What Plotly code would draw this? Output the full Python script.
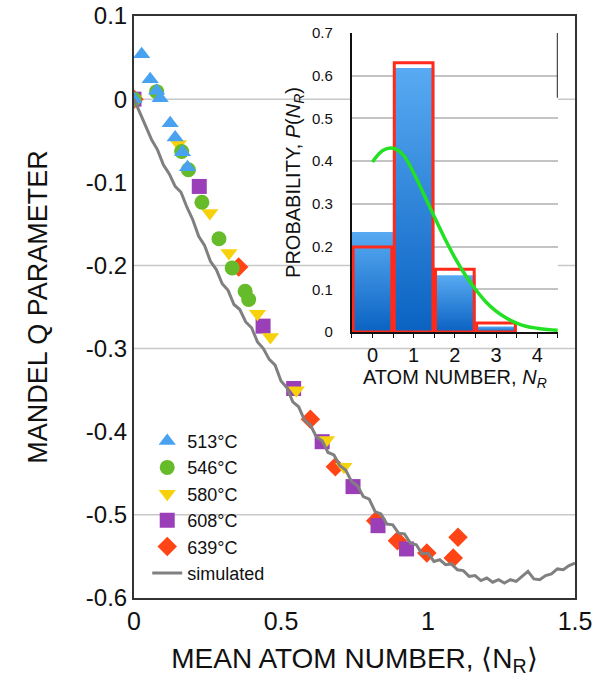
import plotly.graph_objects as go

# main panel: Mandel Q vs mean atom number
t513_x = [0.0, 0.026, 0.055, 0.077, 0.089, 0.123, 0.140, 0.165, 0.182]
t513_q = [0.0, 0.054, 0.024, 0.010, 0.001, -0.029, -0.046, -0.064, -0.082]

t546_x = [0.0, 0.077, 0.162, 0.185, 0.231, 0.289, 0.334, 0.378, 0.390]
t546_q = [0.0, 0.009, -0.063, -0.085, -0.124, -0.168, -0.203, -0.231, -0.241]

t580_x = [0.0, 0.151, 0.258, 0.323, 0.420, 0.464, 0.552, 0.655, 0.714]
t580_q = [0.0, -0.054, -0.137, -0.185, -0.258, -0.286, -0.350, -0.410, -0.442]

t608_x = [0.0, 0.222, 0.439, 0.543, 0.640, 0.745, 0.830, 0.927]
t608_q = [0.0, -0.105, -0.273, -0.348, -0.412, -0.466, -0.513, -0.541]

t639_x = [0.0, 0.356, 0.600, 0.685, 0.822, 0.896, 0.996, 1.086, 1.102]
t639_q = [0.0, -0.202, -0.385, -0.442, -0.507, -0.531, -0.546, -0.552, -0.527]

sim_x = [0.00, 0.02, 0.04, 0.06, 0.08, 0.10, 0.12, 0.14, 0.16, 0.18,
         0.20, 0.22, 0.24, 0.26, 0.28, 0.30, 0.32, 0.34, 0.36, 0.38,
         0.40, 0.42, 0.44, 0.46, 0.48, 0.50, 0.52, 0.54, 0.56, 0.58,
         0.60, 0.62, 0.64, 0.66, 0.68, 0.70, 0.72, 0.74, 0.76, 0.78,
         0.80, 0.82, 0.84, 0.86, 0.88, 0.90, 0.92, 0.94, 0.96, 0.98,
         1.00, 1.02, 1.04, 1.06, 1.08, 1.10, 1.12, 1.14, 1.16, 1.18,
         1.20, 1.22, 1.24, 1.26, 1.28, 1.30, 1.32, 1.34, 1.36, 1.38,
         1.40, 1.42, 1.44, 1.46, 1.48, 1.50]
sim_q = [0.000, -0.016, -0.031, -0.049, -0.061, -0.079, -0.090, -0.105, -0.112, -0.130,
         -0.145, -0.165, -0.176, -0.195, -0.205, -0.222, -0.230, -0.247, -0.253, -0.268,
         -0.275, -0.292, -0.300, -0.313, -0.320, -0.339, -0.347, -0.364, -0.370, -0.386,
         -0.392, -0.406, -0.411, -0.425, -0.428, -0.441, -0.446, -0.460, -0.465, -0.478,
         -0.481, -0.496, -0.499, -0.511, -0.512, -0.522, -0.523, -0.534, -0.536, -0.547,
         -0.546, -0.556, -0.554, -0.560, -0.559, -0.566, -0.567, -0.574, -0.573, -0.579,
         -0.576, -0.581, -0.578, -0.582, -0.578, -0.580, -0.574, -0.568, -0.577, -0.578,
         -0.573, -0.571, -0.565, -0.566, -0.561, -0.558]

q_ticks = [0.1, 0, -0.1, -0.2, -0.3, -0.4, -0.5, -0.6]
q_labels = ["0.1", "0", "-0.1", "-0.2", "-0.3", "-0.4", "-0.5", "-0.6"]
q_grid = [0, -0.2, -0.3, -0.5]

# inset: atom number distribution
atoms = [0, 1, 2, 3, 4]
p_measured = [0.234, 0.618, 0.133, 0.013, 0.0]
p_model = [0.199, 0.630, 0.147, 0.021, 0.0]
fit_x = [0.0, 0.25, 0.5, 0.75, 1.0, 1.25, 1.5, 1.75, 2.0, 2.25, 2.5,
         2.75, 3.0, 3.25, 3.5, 3.75, 4.0, 4.25, 4.5]
fit_p = [0.398, 0.425, 0.430, 0.414, 0.372, 0.322, 0.270, 0.220, 0.174, 0.134, 0.100,
         0.071, 0.049, 0.033, 0.021, 0.013, 0.009, 0.006, 0.004]

FONT = "Liberation Sans, Arial, sans-serif"

fig = go.Figure()

# drawn bottom-up so the overlaps match; legendrank keeps the legend order
series = [
    ("639°C", t639_x, t639_q, "diamond", "#ff4415", 5),
    ("608°C", t608_x, t608_q, "square", "#9a3fb8", 4),
    ("580°C", t580_x, t580_q, "triangle-down", "#f7d20c", 3),
    ("546°C", t546_x, t546_q, "circle", "#66bb2a", 2),
    ("513°C", t513_x, t513_q, "triangle-up", "#48a2f0", 1),
]
for name, xs, qs, sym, col, rank in series:
    fig.add_trace(go.Scatter(
        x=xs, y=qs, mode="markers", name=name, legendrank=rank,
        marker=dict(symbol=sym, size=15, color=col, line=dict(width=0)),
    ))

fig.add_trace(go.Scatter(
    x=sim_x, y=sim_q, mode="lines", name="simulated", legendrank=6,
    line=dict(color="#808080", width=3),
))

# inset: measured bars with a vertical blue gradient (one filled box per bar)
for a, p in zip(atoms, p_measured):
    if p <= 0:
        continue
    fig.add_trace(go.Scatter(
        x=[a - 0.5, a - 0.5, a + 0.5, a + 0.5, a - 0.5], y=[0, p, p, 0, 0],
        mode="lines", fill="toself", line=dict(width=0), hoverinfo="skip",
        fillgradient=dict(type="vertical", colorscale=[[0, "#0a62c2"], [1, "#58aaf2"]]),
        xaxis="x2", yaxis="y2", showlegend=False,
    ))
# model bars as red outlines on top
for a, p in zip(atoms, p_model):
    if p <= 0:
        continue
    fig.add_trace(go.Scatter(
        x=[a - 0.47, a - 0.47, a + 0.47, a + 0.47, a - 0.47], y=[0, p, p, 0, 0],
        mode="lines", line=dict(color="#ff2a1a", width=3), hoverinfo="skip",
        xaxis="x2", yaxis="y2", showlegend=False,
    ))
fig.add_trace(go.Scatter(
    x=fit_x, y=fit_p, mode="lines", xaxis="x2", yaxis="y2", showlegend=False,
    line=dict(color="#22e022", width=3.5, shape="spline"),
))

for g in q_grid:
    fig.add_shape(type="line", xref="x domain", yref="y", x0=0, x1=1, y0=g, y1=g,
                  line=dict(color="#c8c8c8", width=1.5), layer="below")

# short right edge of the inset frame
fig.add_shape(type="line", xref="x2", yref="y2", x0=4.5, x1=4.5, y0=0.548, y1=0.7,
              line=dict(color="#222", width=2))

fig.update_layout(
    width=614, height=687,
    margin=dict(l=134, r=39, t=16, b=89, autoexpand=False),
    paper_bgcolor="white", plot_bgcolor="white",
    font=dict(family=FONT, color="#111"),
    showlegend=True,
    legend=dict(x=0.03, y=0.301, xanchor="left", yanchor="top",
                bgcolor="rgba(0,0,0,0)", font=dict(size=18), tracegroupgap=0),
    xaxis=dict(
        range=[0, 1.5], tickvals=[0, 0.5, 1, 1.5], ticktext=["0", "0.5", "1", "1.5"],
        showgrid=False, zeroline=False, showline=True, mirror=True,
        linecolor="#333", linewidth=2, ticks="", tickfont=dict(size=25),
        ticklabeloverflow="allow",
        title=dict(text="MEAN ATOM NUMBER, ⟨N<sub>R</sub>⟩", font=dict(size=28), standoff=14),
    ),
    yaxis=dict(
        range=[-0.6, 0.1], tickvals=q_ticks, ticktext=q_labels,
        showgrid=False, zeroline=False, showline=True, mirror=True,
        linecolor="#333", linewidth=2, ticks="", tickfont=dict(size=24),
        ticklabeloverflow="allow",
        title=dict(text="MANDEL Q PARAMETER", font=dict(size=27), standoff=30),
    ),
    xaxis2=dict(
        domain=[0.494, 0.961], anchor="y2", range=[-0.5, 4.5],
        tickvals=atoms, showgrid=False, zeroline=False,
        showline=True, linecolor="#111", linewidth=2,
        ticks="outside", ticklen=4, tickcolor="#111",
        minor=dict(ticks="outside", ticklen=4, dtick=0.5, tick0=-0.5, tickcolor="#111"),
        tickfont=dict(size=20),
        title=dict(text="ATOM NUMBER, <i>N<sub>R</sub></i>", font=dict(size=20), standoff=4),
    ),
    yaxis2=dict(
        domain=[0.457, 0.971], anchor="x2", range=[0, 0.7], dtick=0.1,
        showgrid=True, gridcolor="#c4c4c4", gridwidth=1.5, zeroline=False,
        showline=True, linecolor="#111", linewidth=2, ticks="",
        tickfont=dict(size=15), ticklabelstandoff=14,
        title=dict(text="PROBABILITY, <i>P</i>(<i>N<sub>R</sub></i>)", font=dict(size=20), standoff=6),
    ),
)

# drop the default page margin so the figure sits at the window's corner
fig.write_html("out.html", config={"displayModeBar": False},
               post_script="document.body.style.margin = '0';")
